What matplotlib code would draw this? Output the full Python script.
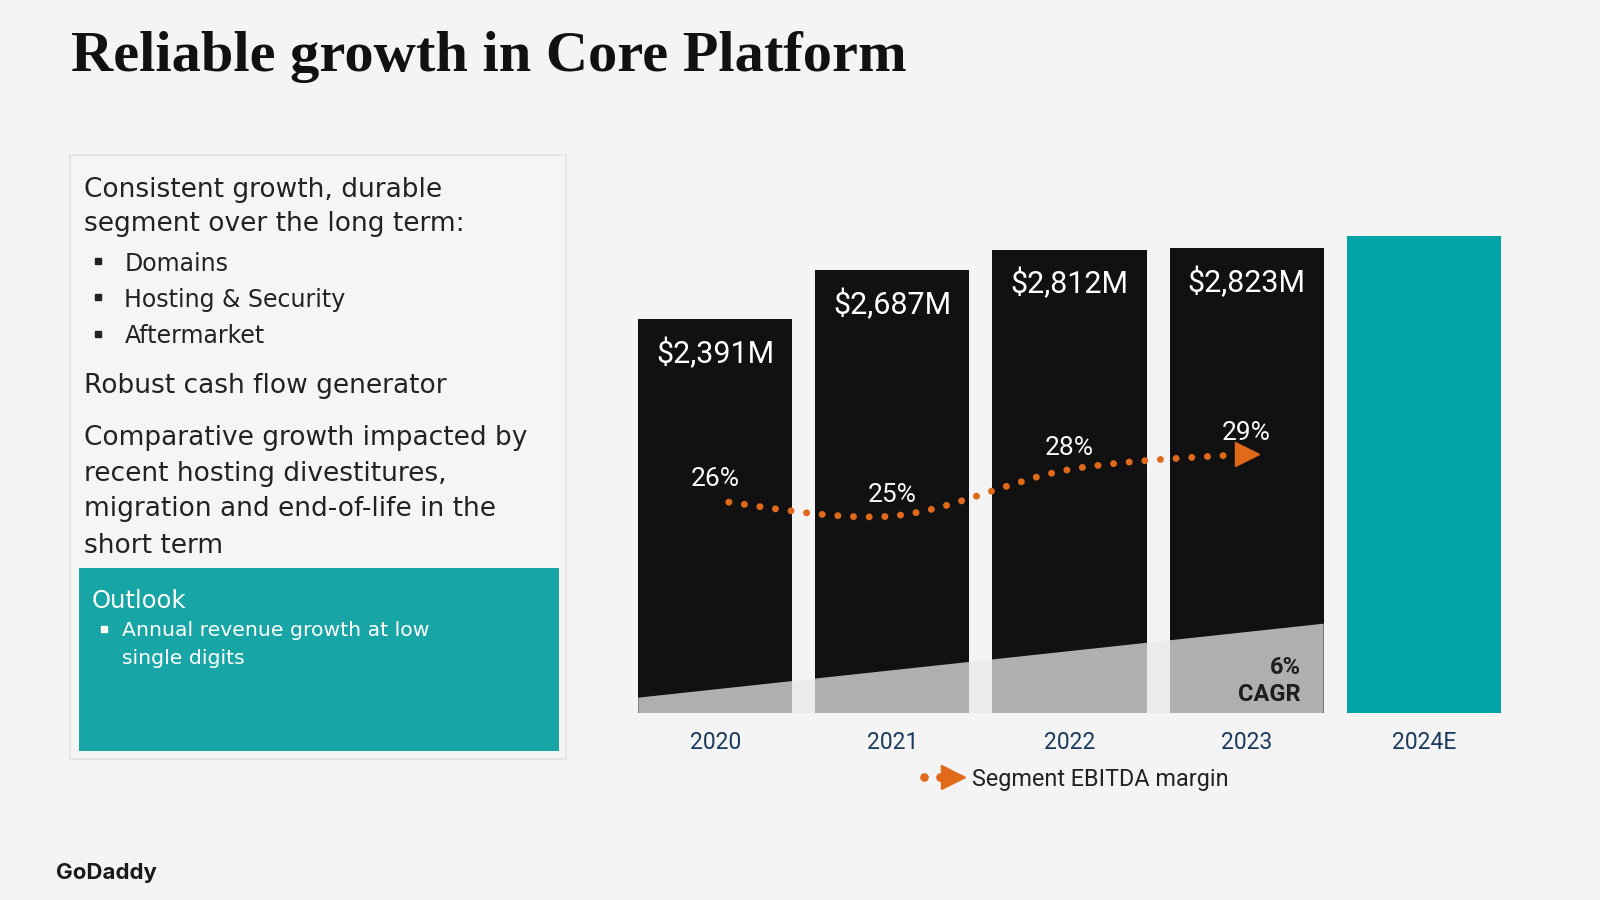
import numpy as np
import matplotlib
matplotlib.use("Agg")
import matplotlib.pyplot as plt
from matplotlib.path import Path
from matplotlib.patches import PathPatch, Rectangle, Polygon

# ---------------- data ----------------
years = ["2020", "2021", "2022", "2023", "2024E"]
revenue = [2391, 2687, 2812, 2823, 2895]
revenue_labels = ["$2,391M", "$2,687M", "$2,812M", "$2,823M", ""]
bar_colors = ["#111111", "#111111", "#111111", "#111111", "#00a4a6"]
margin_idx = [0, 1, 2, 3]
ebitda_margin = [26, 25, 28, 29]
margin_labels = ["26%", "25%", "28%", "29%"]
cagr_text = ["6%", "CAGR"]
legend_label = "Segment EBITDA margin"
title = "Reliable growth in Core Platform"
intro_lines = ["Consistent growth, durable", "segment over the long term:"]
bullets = ["Domains", "Hosting & Security", "Aftermarket"]
point2 = ["Robust cash flow generator"]
point3 = ["Comparative growth impacted by", "recent hosting divestitures,",
          "migration and end-of-life in the", "short term"]
outlook_title = "Outlook"
outlook_lines = ["Annual revenue growth at low", "single digits"]
logo = "GoDaddy"

BG = "#f4f4f4"
ORANGE = "#e0691a"
TEAL_BOX = "#17a5a5"
NAVY = "#1b3a5c"
TXT = "#222222"
BODY = ["DejaVu Sans"]

plt.rcParams["font.family"] = ["Roboto", "DejaVu Sans"]

W, H = 1600, 900
fig = plt.figure(figsize=(16, 9), dpi=100, facecolor=BG)

# ---------------- chart axes ----------------
ax_left, ax_right = 626.75, 1512.25
ax_bottom, ax_top = 713.0, 218.6
ax = fig.add_axes([ax_left / W, 1 - ax_bottom / H, (ax_right - ax_left) / W, (ax_bottom - ax_top) / H])
ax.set_facecolor("none")
x = np.arange(len(years))
bw = 0.87
ax.bar(x, revenue, width=bw, color=bar_colors, zorder=2)
ax.set_xlim(-0.5, len(years) - 0.5)
ax.set_ylim(0, 3000)
for s in ax.spines.values():
    s.set_visible(False)
ax.set_yticks([])
ax.set_xticks(x)
ax.set_xticklabels(years)
ax.tick_params(axis="x", length=0, pad=13, labelsize=16.5, labelcolor=NAVY)

for xi, v, lab in zip(x, revenue, revenue_labels):
    if lab:
        ax.annotate(lab, (xi, v), xytext=(0, -22.5), textcoords="offset points",
                    ha="center", va="center_baseline", color="white",
                    fontsize=22, fontweight="normal", zorder=5)

# CAGR wedge (decorative) across the historical bars
wedge_left, wedge_right = 93, 542
poly = Polygon([(0 - bw / 2, 0), (0 - bw / 2, wedge_left), (3 + bw / 2, wedge_right), (3 + bw / 2, 0)],
               closed=True, facecolor=(232 / 255, 232 / 255, 232 / 255), alpha=0.74,
               edgecolor="none", zorder=3)
ax.add_patch(poly)

# EBITDA margin line on twin axis
ax2 = ax.twinx()
ax2.set_ylim(12.29, 44.19)
ax2.set_axis_off()
P = np.column_stack([np.array(margin_idx, float), np.array(ebitda_margin, float)])
Pext = np.vstack([P[0], P, P[-1]])
verts = [P[0]]
codes = [Path.MOVETO]
for i in range(len(P) - 1):
    p0, p1, p2, p3 = Pext[i], Pext[i + 1], Pext[i + 2], Pext[i + 3]
    verts += [p1 + (p2 - p0) / 6, p2 - (p3 - p1) / 6, p2]
    codes += [Path.CURVE4] * 3
patch = PathPatch(Path(verts, codes), fill=False, edgecolor=ORANGE, linewidth=5,
                  linestyle=(0.3, (0.01, 2.25)), capstyle="round", zorder=6)
ax2.add_patch(patch)
ax2.plot([margin_idx[-1]], [ebitda_margin[-1]], marker=">", markersize=17, color=ORANGE,
         linestyle="none", zorder=7)
for xi, m, lab in zip(margin_idx, ebitda_margin, margin_labels):
    ax2.annotate(lab, (xi, m), xytext=(0, 17), textcoords="offset points",
                 ha="center", va="center_baseline", color="#f8f8f8",
                 fontsize=19, fontweight="normal", zorder=8)

# ---------------- overlay (pixel coords) ----------------
ov = fig.add_axes([0, 0, 1, 1])
ov.set_xlim(0, W)
ov.set_ylim(H, 0)
ov.set_axis_off()
ov.set_facecolor("none")

ov.text(71, 71, title, fontsize=42, fontweight="bold", family=["Liberation Serif", "DejaVu Serif"],
        color="#111111", ha="left", va="baseline")

ov.add_patch(Rectangle((70.4, 155), 495.6, 604, facecolor="#f5f5f5", edgecolor="#e2e2e2", lw=1.2))
ov.add_patch(Rectangle((78.5, 568), 480.5, 183, facecolor=TEAL_BOX, edgecolor="none"))

tx = 84
fs = 19
fs_b = 17
y_intro = [186.7, 221.4]
for yy, t in zip(y_intro, intro_lines):
    ov.text(tx, yy, t, fontsize=fs, family=BODY, color=TXT, va="center_baseline")
y_bul = [261.2, 297.0, 333.7]
for yy, t in zip(y_bul, bullets):
    ov.plot([98], [yy], marker="s", markersize=5, color=TXT)
    ov.text(124.5, yy, t, fontsize=fs_b, family=BODY, color=TXT, va="center_baseline")
for yy, t in zip([382.7], point2):
    ov.text(tx, yy, t, fontsize=fs, family=BODY, color=TXT, va="center_baseline")
for yy, t in zip([434.7, 471.4, 506.0, 542.9], point3):
    ov.text(tx, yy, t, fontsize=fs, family=BODY, color=TXT, va="center_baseline")

ov.text(91.5, 598, outlook_title, fontsize=17.5, family=BODY, color="white", va="center_baseline")
ov.plot([104], [628.6], marker="s", markersize=4.5, color="white")
for yy, t in zip([628.6, 656.0], outlook_lines):
    ov.text(121.5, yy, t, fontsize=14.7, family=BODY, color="white", va="center_baseline")

# CAGR annotation
ov.text(1301, 665, cagr_text[0], fontsize=17, fontweight="bold", color="#1e1e1e", ha="right", va="center_baseline")
ov.text(1301, 692, cagr_text[1], fontsize=17, fontweight="bold", color="#1e1e1e", ha="right", va="center_baseline")

# legend
ov.plot([923.5, 940], [777, 777], linestyle="none", marker="o", markersize=5.2, color=ORANGE)
ov.plot([953], [777], marker=">", markersize=17, color=ORANGE)
ov.text(971.5, 777, legend_label, fontsize=16.8, color="#222222", va="center_baseline")

# logo
ov.text(56, 871, logo, fontsize=16, fontweight="bold", family=["Inter", "DejaVu Sans"],
        color="#1a1a1a", va="center_baseline")

fig.savefig("out.png", dpi=100, facecolor=BG)
